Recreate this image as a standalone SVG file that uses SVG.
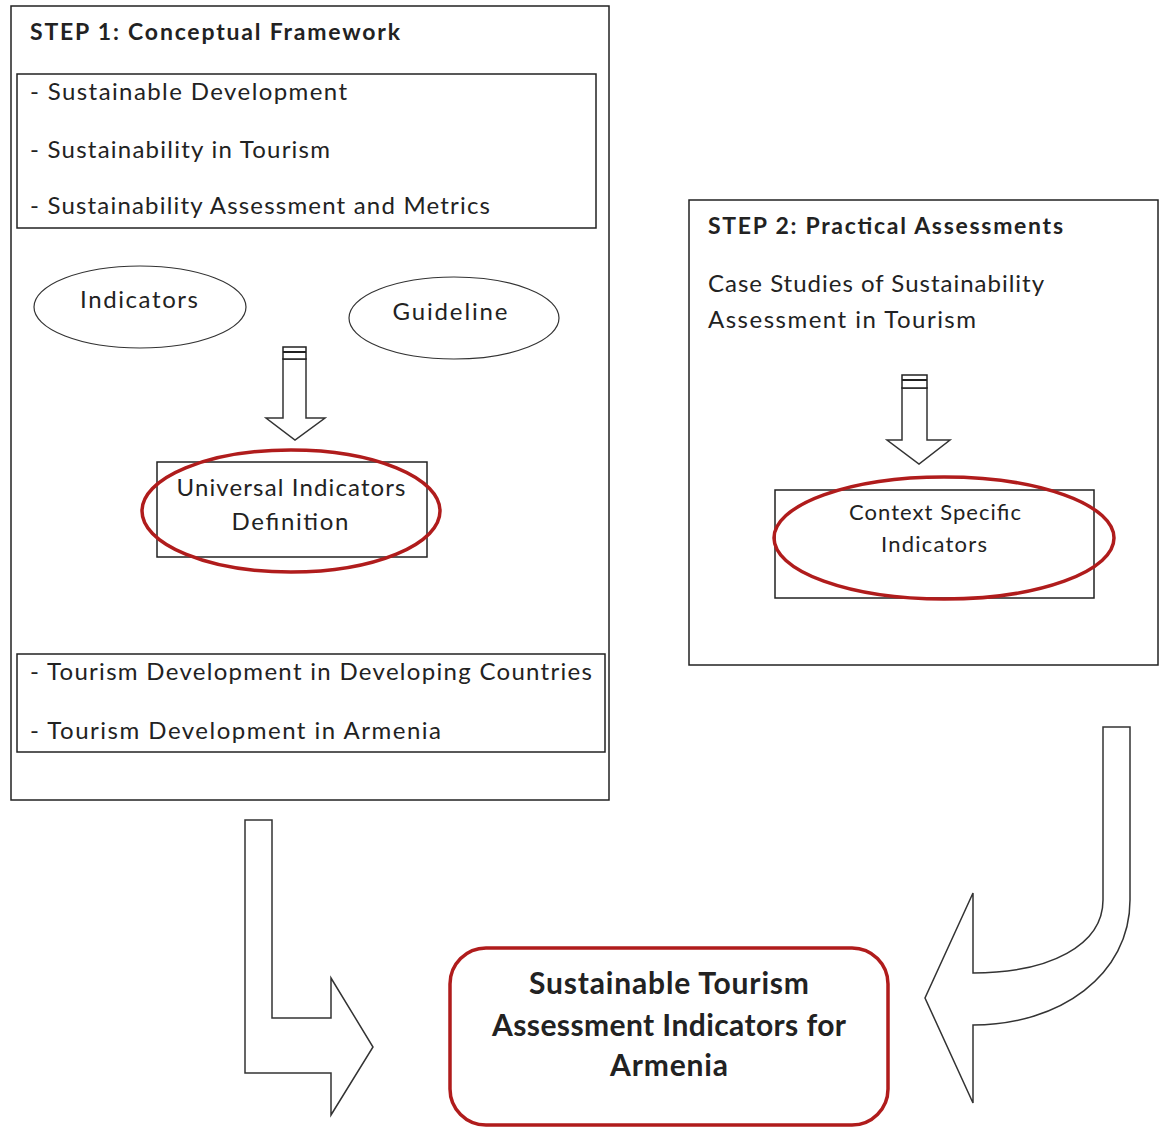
<svg xmlns="http://www.w3.org/2000/svg" width="1161" height="1129" viewBox="0 0 1161 1129">
<style>
text{font-family:Lato,"Liberation Sans",sans-serif;fill:#222;font-size:24px}
.t{font-weight:bold;font-size:23px}
.s{font-size:22px}
.r{font-weight:bold;font-size:30px;text-anchor:middle}
.c{text-anchor:middle}
.box{fill:none;stroke:#222;stroke-width:1.5}
.ell{fill:none;stroke:#333;stroke-width:1.2}
.red{fill:none;stroke:#b01c1c;stroke-width:3.5}
.arr{fill:#fff;stroke:#333;stroke-width:1.5;stroke-linejoin:miter}
</style>
<rect width="1161" height="1129" fill="#fff"/>
<g id="step1">
<rect class="box" x="11" y="6" width="598" height="794"/>
<text class="t" x="30" y="40" textLength="370">STEP 1: Conceptual Framework</text>
</g>
<g id="concepts">
<rect class="box" x="17" y="74" width="579" height="154"/>
<text x="30" y="100" textLength="317">- Sustainable Development</text>
<text x="30" y="158" textLength="300">- Sustainability in Tourism</text>
<text x="30" y="214" textLength="460">- Sustainability Assessment and Metrics</text>
</g>
<g id="indicators">
<ellipse class="ell" cx="140" cy="307" rx="106" ry="41"/>
<text class="c" x="139" y="308" textLength="118">Indicators</text>
</g>
<g id="guideline">
<ellipse class="ell" cx="454" cy="318" rx="105" ry="41"/>
<text class="c" x="450" y="320" textLength="115">Guideline</text>
</g>
<g id="universal">
<rect class="box" x="157" y="462" width="270" height="95"/>
<ellipse class="red" cx="291" cy="511" rx="149" ry="61"/>
<text class="c" x="291" y="496" textLength="229">Universal Indicators</text>
<text class="c" x="290" y="530" textLength="117">Definition</text>
</g>
<g id="tourismdev">
<rect class="box" x="17" y="654" width="588" height="98"/>
<text x="30" y="680" textLength="562">- Tourism Development in Developing Countries</text>
<text x="30" y="739" textLength="411">- Tourism Development in Armenia</text>
</g>
<g id="step2">
<rect class="box" x="689" y="200" width="469" height="465"/>
<text class="t" x="708" y="234" textLength="355">STEP 2: Practical Assessments</text>
<text x="708" y="292" textLength="336">Case Studies of Sustainability</text>
<text x="708" y="328" textLength="268">Assessment in Tourism</text>
</g>
<g id="context">
<rect class="box" x="775" y="490" width="319" height="108"/>
<ellipse class="red" cx="944" cy="538" rx="170" ry="61"/>
<text class="s c" x="935" y="520" textLength="172">Context Specific</text>
<text class="s c" x="934" y="552" textLength="106">Indicators</text>
</g>
<g id="result">
<rect x="450" y="948" width="438" height="177" rx="36" fill="none" stroke="#b01c1c" stroke-width="3.5"/>
<text class="r" x="669" y="994" textLength="280">Sustainable Tourism</text>
<text class="r" x="669" y="1036" textLength="354">Assessment Indicators for</text>
<text class="r" x="669" y="1076" textLength="118">Armenia</text>
</g>
<g id="connectors">
<path class="arr" d="M283,359 L306,359 L306,418 L325,418 L295,440 L266,418 L283,418 Z"/>
<rect x="283" y="347" width="23" height="12" fill="#fff" stroke="#222" stroke-width="1.5"/>
<line x1="283" y1="352" x2="306" y2="352" stroke="#222" stroke-width="2"/>
<path class="arr" d="M902,388 L927,388 L927,440 L950,440 L919,464 L887,440 L902,440 Z"/>
<rect x="902" y="375" width="25" height="13" fill="#fff" stroke="#222" stroke-width="1.5"/>
<line x1="902" y1="380" x2="927" y2="380" stroke="#222" stroke-width="2"/>
<path class="arr" d="M245,820 L272,820 L272,1018 L331,1018 L331,978 L373,1047 L331,1115 L331,1073 L245,1073 Z"/>
<path class="arr" d="M1103,727 L1130,727 L1130,900 C1130,975 1060,1025 973,1025 L973,1103 L925,998 L973,893 L973,973 C1050,973 1103,945 1103,900 Z"/>
</g>
</svg>
